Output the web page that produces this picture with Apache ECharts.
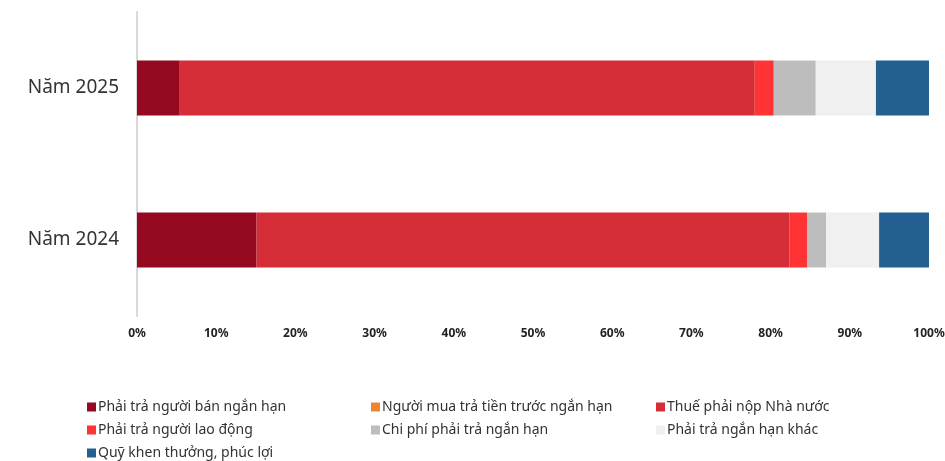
<!DOCTYPE html>
<html>
<head>
<meta charset="utf-8">
<script src="https://cdn.jsdelivr.net/npm/echarts@6/dist/echarts.min.js"></script>
<style>
  html, body { margin: 0; padding: 0; background: #fff; }
  #chart { width: 945px; height: 461px; }
</style>
</head>
<body>
<div id="chart"></div>
<script>
// categories, bottom to top
const years = ["Năm 2024", "Năm 2025"]
const seriesNames = [
    "Phải trả người bán ngắn hạn",
    "Người mua trả tiền trước ngắn hạn",
    "Thuế phải nộp Nhà nước",
    "Phải trả người lao động",
    "Chi phí phải trả ngắn hạn",
    "Phải trả ngắn hạn khác",
    "Quỹ khen thưởng, phúc lợi"
]
// tỷ trọng (%) theo năm [2024, 2025]
const nguoiBan = [15.1, 5.4]
const nguoiMua = [0.0, 0.0]
const thue = [67.3, 72.6]
const laoDong = [2.2, 2.4]
const chiPhi = [2.4, 5.3]
const khac = [6.7, 7.6]
const quyKhenThuong = [6.3, 6.8]
const xTicks = [0, 10, 20, 30, 40, 50, 60, 70, 80, 90, 100]

const values = [nguoiBan, nguoiMua, thue, laoDong, chiPhi, khac, quyKhenThuong]
const colors = ["#960a21", "#f08234", "#d62e38", "#ff3333", "#bdbdbd", "#f0f0f0", "#245f91"]
const font = "Noto Sans"

const chart = echarts.init(document.getElementById("chart"), null, { renderer: "canvas" })

function legendCol(names, left) {
    return {
        orient: "vertical",
        left,
        top: 398,
        height: 80,
        padding: 0,
        itemWidth: 9,
        itemHeight: 9,
        itemGap: 5,
        icon: "rect",
        selectedMode: false,
        data: names,
        textStyle: { fontFamily: font, fontSize: 14, lineHeight: 18, color: "#333", padding: [0, 0, 0, -3] }
    }
}

const option = {
    animation: false,
    color: colors,
    grid: { left: 137, right: 16, top: 12, bottom: 145, outerBoundsMode: "none" },
    legend: [
        legendCol([seriesNames[0], seriesNames[3], seriesNames[6]], 87),
        legendCol([seriesNames[1], seriesNames[4]], 371),
        legendCol([seriesNames[2], seriesNames[5]], 656)
    ],
    xAxis: {
        type: "value",
        min: 0,
        max: 100,
        interval: 10,
        axisLine: { show: false },
        axisTick: { show: false },
        splitLine: { show: false },
        axisLabel: {
            margin: 12,
            fontFamily: font,
            fontSize: 12,
            fontWeight: "bold",
            color: "#222",
            formatter: v => xTicks.includes(v) ? v + "%" : ""
        }
    },
    yAxis: {
        type: "category",
        data: years,
        axisLine: { show: true, lineStyle: { color: "#d9d9d9", width: 2 } },
        axisTick: { show: false },
        axisLabel: { margin: 18, fontFamily: font, fontSize: 19, color: "#333" }
    },
    series: seriesNames.map((name, i) => ({
        name,
        type: "bar",
        stack: "total",
        barWidth: 55,
        data: values[i],
        itemStyle: { color: colors[i] }
    }))
}
chart.setOption(option)
</script>
</body>
</html>
